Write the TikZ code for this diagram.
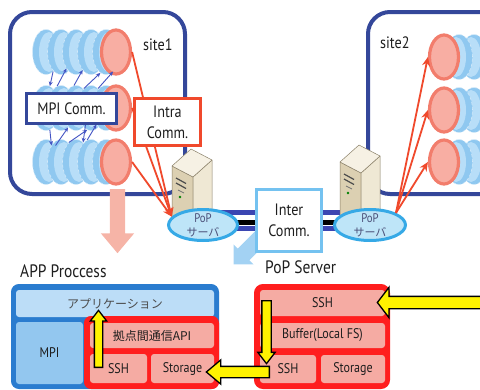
\documentclass[tikz,border=0pt]{standalone}
\usepackage{fontspec}
\setmainfont{PT Sans}[FakeStretch=0.86]
\newfontfamily\jpfont{Noto Sans CJK JP}
\usetikzlibrary{shapes.geometric,shapes.arrows,arrows.meta}

\definecolor{siteblue}{HTML}{34479A}
\definecolor{diskblue}{HTML}{8FC8F0}
\definecolor{disklight}{HTML}{B8DEF8}
\definecolor{ringred}{HTML}{F27D6C}
\definecolor{endpink}{HTML}{F8AEA3}
\definecolor{wirered}{HTML}{F0492C}
\definecolor{mpiblue}{HTML}{4454C4}
\definecolor{popfill}{HTML}{BEE5F8}
\definecolor{popline}{HTML}{36A9E6}
\definecolor{popgray}{HTML}{4A4F78}
\definecolor{interline}{HTML}{74C2F0}
\definecolor{linkblue}{HTML}{3B46B2}
\definecolor{downpink}{HTML}{F6B4A7}
\definecolor{hintblue}{HTML}{A3D2F3}
\definecolor{appblue}{HTML}{2A7CCF}
\definecolor{appbar}{HTML}{BCDDF7}
\definecolor{mpibox}{HTML}{93C7EF}
\definecolor{stackred}{HTML}{FF1E1E}
\definecolor{stackpink}{HTML}{F5ABA3}
\definecolor{srvfront}{HTML}{DCD0B2}
\definecolor{srvside}{HTML}{EFE8D4}
\definecolor{srvtop}{HTML}{F6F1E4}
\definecolor{srvedge}{HTML}{8A8068}
\definecolor{inkgray}{HTML}{1E1E1E}

% a row of processes, salmon end on the right
\newcommand{\leftrow}[2]{%
  \foreach \k in {1,...,5}{
    \node[disk] (#1d\k) at ({31+15*\k},#2) {};
    \node[diskhi] (#1h\k) at ({34+15*\k},#2) {};
  }
  \node[diskend] (#1e) at (116,#2) {};
}
% the same row, salmon end on the left
\newcommand{\rightrow}[2]{%
  \foreach \k in {5,4,...,1}{
    \node[disk] (#1d\k) at ({444+15*\k},#2) {};
    \node[diskhi] (#1h\k) at ({441+15*\k},#2) {};
  }
  \node[diskend] (#1e) at (444,#2) {};
}
% tower server, #2/#3 = left corner of the top face
\newcommand{\pcserver}[3]{%
  \coordinate (#1) at (#2,#3);
  \filldraw[srv, fill=srvfront] (#2,#3) -- ({#2+21},{#3+11}) -- ({#2+21},{#3+65}) -- (#2,{#3+54}) -- cycle;
  \filldraw[srv, fill=srvside] ({#2+21},{#3+11}) -- ({#2+40},{#3-6}) -- ({#2+40},{#3+48}) -- ({#2+21},{#3+65}) -- cycle;
  \filldraw[srv, fill=srvtop] (#2,#3) -- ({#2+19},{#3-17}) -- ({#2+40},{#3-6}) -- ({#2+21},{#3+11}) -- cycle;
  \draw[black!70, line width=1.2pt] ({#2+4},{#3+12}) -- ({#2+14},{#3+17.5});
  \draw[black!70, line width=1.2pt] ({#2+4},{#3+17}) -- ({#2+14},{#3+22.5});
  \draw[black!55, line width=0.8pt] ({#2+6},{#3+24}) -- ({#2+12},{#3+27});
  \fill[green!50!black] ({#2+8},{#3+31}) circle (1.4);
}

\begin{document}
\begin{tikzpicture}[
    x=1pt, y=-1pt,
    font=\fontsize{16.5}{21}\selectfont,
    text=inkgray,
    site/.style={rectangle, draw=siteblue, line width=4pt, rounded corners=22pt, fill=white, inner sep=0pt},
    disk/.style={ellipse, fill=diskblue, draw=diskblue!40!white, densely dashed, line width=0.6pt,
        minimum width=27pt, minimum height=45pt, inner sep=0pt},
    diskhi/.style={ellipse, fill=disklight, minimum width=20pt, minimum height=40pt, inner sep=0pt},
    diskend/.style={ellipse, draw=ringred, line width=3.2pt, fill=endpink,
        minimum width=29pt, minimum height=44pt, inner sep=0pt},
    wire/.style={draw=wirered, line width=1.8pt, -{Stealth[length=9pt,width=8pt]}},
    mpiarr/.style={draw=mpiblue, line width=0.9pt, -{Stealth[length=4.5pt,width=4pt]}},
    commbox/.style={rectangle, fill=white, line width=2.5pt, align=center, inner sep=0pt},
    pop/.style={ellipse, draw=popline, fill=popfill, line width=3pt,
        minimum width=69pt, minimum height=31pt, inner sep=0pt},
    poptext/.style={align=center, text=popgray, inner sep=0pt, font=\fontsize{12.5}{14}\selectfont},
    link/.style={draw=linkblue, line width=5pt},
    srv/.style={draw=srvedge, line width=0.5pt, line join=round},
    title/.style={font=\fontsize{18}{20}\selectfont, inner sep=0pt, anchor=base west},
    blockarrow/.style={single arrow, inner xsep=0pt, inner ysep=#1, single arrow head indent=0pt},
    yarrow/.style={blockarrow=#1, draw=black, line width=1.3pt, fill=yellow},
    stack/.style={rectangle, rounded corners=7pt, line width=2pt, inner sep=0pt},
    blk/.style={rectangle, rounded corners=3pt, inner sep=0pt, font=\fontsize{14}{16}\selectfont},
    jp/.style={font=\jpfont\fontsize{12}{14}\selectfont}
  ]
\useasboundingbox (0,0) rectangle (480,389);
\clip (0,0) rectangle (480,389);

% // the two sites
\node[site, minimum width=175pt, minimum height=182pt] (site1) at (97.5,103) {};
\node[site, minimum width=152pt, minimum height=182pt] (site2) at (444,103) {};
\node[anchor=base west, inner sep=0pt] (site1lbl) at (143,50) {site1};
\node[anchor=base west, inner sep=0pt] (site2lbl) at (380,48) {site2};

% processes
\leftrow{r1}{52}
\leftrow{r2}{108}
\leftrow{r3}{162}
\rightrow{q1}{57}
\rightrow{q2}{110}
\rightrow{q3}{162}

% MPI traffic inside site1
\draw[mpiarr] (r1d1.-70) -- (r2d1.80);
\draw[mpiarr] (r2d2.100) -- (r1d3.-120);
\draw[mpiarr] (r2d3.95) -- (r1d4.-115);
\draw[mpiarr] (r2d4.110) -- (r1d5.-105);
\draw[mpiarr] (r2d4.70) -- (r1d5.-70);
\draw[mpiarr] (r2d1.-80) -- (r3d2.120);
\draw[mpiarr] (r3d1.60) -- (r2d2.-70);
\draw[mpiarr] (r3d3.110) -- (r2d4.-100);
\draw[mpiarr] (r3d4.100) -- (r2d5.-120);
\draw[mpiarr] (r2d3.-60) -- (r3d3.70);
\node[commbox, draw=siteblue, minimum width=90pt, minimum height=30pt] (mpicomm) at (71.5,108.5) {MPI Comm.};

% // PoP servers and the link between them
\coordinate (pop1c) at (203,225);
\coordinate (pop2c) at (370,225);
\draw[link] ([yshift=12.5pt]pop1c) -- ([yshift=12.5pt]pop2c);
\draw[black, line width=5pt] ([yshift=2.5pt]pop1c) -- ([yshift=2.5pt]pop2c);
\draw[link] ([yshift=-3.5pt]pop1c) -- ([yshift=-3.5pt]pop2c);

\pcserver{srv1}{172}{166}
\pcserver{srv2}{340}{162}

\node[blockarrow=8pt, fill=hintblue, single arrow head extend=6pt, single arrow tip angle=90,
  minimum height=40pt, rotate=-135, anchor=tail] (hint) at (262,236) {};

\node[pop] (pop1) at (pop1c) {};
\node[pop, minimum width=71pt] (pop2) at (pop2c) {};
\node[poptext] (pop1t) at (pop1c) {PoP\\{\jpfont\fontsize{11}{12}\selectfont サーバ}};
\node[poptext] (pop2t) at (pop2c) {PoP\\{\jpfont\fontsize{11}{12}\selectfont サーバ}};

% intra-site wires
\draw[wire] (r1e.east) -- (pop1.165);
\draw[wire] (r2e.east) -- (pop1.165);
\draw[wire] (r3e.east) -- (pop1.165);
\draw[wire] (pop2.25) -- (q1e.west);
\draw[wire] (pop2.25) -- (q2e.west);
\draw[wire] (pop2.25) -- (q3e.west);

\node[commbox, draw=wirered, minimum width=66pt, minimum height=47pt] (intra) at (167.5,122) {Intra\\Comm.};
\node[commbox, draw=interline, line width=3pt, minimum width=65pt, minimum height=62pt] (inter) at (289,220.5) {Inter\\Comm.};

\node[blockarrow=7.5pt, fill=downpink, single arrow head extend=9pt, single arrow tip angle=80,
  minimum height=64pt, rotate=-90, anchor=tail] (toapp) at (117.5,189) {};

\node[title] (apptitle) at (20,277) {APP Proccess};
\node[title] (poptitle) at (265,273) {PoP Server};

% // application process stack
\node[stack, fill=appblue, draw=appblue, minimum width=206pt, minimum height=103pt] (appbox) at (115,336.5) {};
\node[blk, fill=appbar, minimum width=198pt, minimum height=27pt, jp, text=black!70] (appbar) at (115,303.5) {アプリケーション};
\node[blk, fill=mpibox, minimum width=67pt, minimum height=62pt] (mpiblk) at (49.5,353) {MPI};
\node[stack, rounded corners=6pt, fill=stackred, draw=stackred, minimum width=133pt, minimum height=71pt] (apired) at (151.5,352.5) {};
\node[blk, fill=stackpink, minimum width=124pt, minimum height=25pt, jp] (apiblk) at (152,335.5) {拠点間通信API};
\node[blk, fill=stackpink, minimum width=57pt, minimum height=29pt] (sshA) at (118.5,368.5) {SSH};
\node[blk, fill=stackpink, minimum width=63pt, minimum height=29pt] (stoA) at (182.5,368.5) {Storage};

% // PoP server stack
\node[stack, rounded corners=8pt, fill=stackred, draw=stackred, minimum width=134pt, minimum height=103pt] (popbox) at (322,336.5) {};
\node[blk, fill=stackpink, minimum width=125pt, minimum height=26pt] (sshB) at (322.5,303) {SSH};
\node[blk, fill=stackpink, minimum width=125pt, minimum height=25pt] (bufB) at (322.5,335.5) {Buffer(Local FS)};
\node[blk, fill=stackpink, minimum width=56pt, minimum height=28pt] (sshC) at (288,369) {SSH};
\node[blk, fill=stackpink, minimum width=64pt, minimum height=28pt] (stoC) at (353,369) {Storage};

% data path
\node[yarrow=5.5pt, single arrow head extend=9pt, single arrow tip angle=105,
  minimum height=110pt, rotate=180, anchor=tail] (inflow) at (488,302.5) {};
\node[yarrow=4pt, single arrow head extend=4pt, single arrow tip angle=75,
  minimum height=63pt, rotate=-90, anchor=tail] (tobuf) at (266.5,300) {};
\node[yarrow=5pt, single arrow head extend=6.5pt, single arrow tip angle=80,
  minimum height=63pt, rotate=180, anchor=tail] (tostore) at (270,372) {};
\node[yarrow=3.5pt, single arrow head extend=4pt, single arrow tip angle=75,
  minimum height=57pt, rotate=90, anchor=tail] (toappbar) at (98.5,368) {};

\end{tikzpicture}
\end{document}
